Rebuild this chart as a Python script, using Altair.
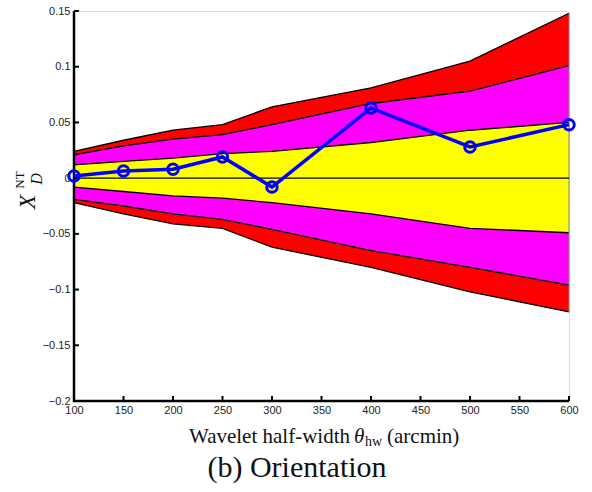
import altair as alt
import pandas as pd

# ---- data ----
x_vals = [100, 150, 200, 250, 300, 400, 500, 600]
red_top = [0.024, 0.034, 0.043, 0.048, 0.064, 0.081, 0.105, 0.148]
mag_top = [0.021, 0.029, 0.035, 0.039, 0.048, 0.067, 0.078, 0.101]
yel_top = [0.012, 0.015, 0.018, 0.022, 0.024, 0.032, 0.043, 0.050]
yel_bot = [-0.008, -0.012, -0.016, -0.018, -0.022, -0.032, -0.045, -0.049]
mag_bot = [-0.019, -0.025, -0.032, -0.037, -0.046, -0.065, -0.080, -0.096]
red_bot = [-0.022, -0.032, -0.041, -0.045, -0.062, -0.080, -0.102, -0.120]
measured = [0.002, 0.0065, 0.008, 0.019, -0.008, 0.063, 0.028, 0.048]

x_ticks = [100, 150, 200, 250, 300, 350, 400, 450, 500, 550, 600]
y_ticks = [-0.2, -0.15, -0.1, -0.05, 0, 0.05, 0.1, 0.15]

W, H = 495, 390

df = pd.DataFrame({
    "x": x_vals, "red_top": red_top, "mag_top": mag_top, "yel_top": yel_top,
    "yel_bot": yel_bot, "mag_bot": mag_bot, "red_bot": red_bot, "val": measured,
})
xt = pd.DataFrame({"x": x_ticks})
yt = pd.DataFrame({"y": y_ticks})

xs = alt.Scale(domain=[100, 600], nice=False, zero=False)
ys = alt.Scale(domain=[-0.2, 0.15], nice=False, zero=False)

X = alt.X("x:Q", scale=xs, axis=alt.Axis(values=x_ticks, domain=False, ticks=False, grid=False,
                                          labelPadding=3, labelFontSize=11, labelColor="#222",
                                          labelFlush=False,
                                          labelFont="Liberation Sans", title=None))
base = alt.Chart(df)

def band(lo, hi, color):
    return base.mark_area(color=color, opacity=1).encode(
        x=X,
        y=alt.Y(f"{lo}:Q", scale=ys, axis=alt.Axis(values=y_ticks, domain=False, ticks=False, grid=False,
                                                   labelPadding=4, labelFontSize=11, labelColor="#222",
                                                   labelFlush=False,
                                                   labelFont="Liberation Sans", format=".2~f", title=None)),
        y2=f"{hi}:Q",
    )

layers = [
    band("red_bot", "red_top", "#FF0000"),
    band("mag_bot", "mag_top", "#FF00FF"),
    band("yel_bot", "yel_top", "#FFFF00"),
]
for col in ["red_top", "mag_top", "yel_top", "yel_bot", "mag_bot", "red_bot"]:
    layers.append(base.mark_line(color="black", strokeWidth=1.3).encode(
        x=alt.X("x:Q", scale=xs), y=alt.Y(f"{col}:Q", scale=ys)))

# right edge of the polygon
edge = pd.DataFrame({"x": [600], "lo": [red_bot[-1]], "hi": [red_top[-1]]})
layers.append(alt.Chart(edge).mark_rule(color="#888", strokeWidth=1).encode(
    x=alt.X("x:Q", scale=xs), y=alt.Y("lo:Q", scale=ys), y2="hi:Q"))

# zero line
zero = pd.DataFrame({"x": [100], "x2": [600], "y": [0]})
layers.append(alt.Chart(zero).mark_rule(color="black", strokeWidth=1.2).encode(
    x=alt.X("x:Q", scale=xs), x2="x2:Q", y=alt.Y("y:Q", scale=ys)))

# axes lines and inward ticks
layers.append(alt.Chart(zero).mark_rule(color="black", strokeWidth=2.5).encode(
    x=alt.value(0), y=alt.value(0), y2=alt.value(H + 1)))
layers.append(alt.Chart(zero).mark_rule(color="black", strokeWidth=2.5).encode(
    x=alt.value(-1), x2=alt.value(W), y=alt.value(H)))
layers.append(alt.Chart(xt).mark_rule(color="black", strokeWidth=2).encode(
    x=alt.X("x:Q", scale=xs), y=alt.value(H), y2=alt.value(H - 5)))
layers.append(alt.Chart(yt).mark_rule(color="black", strokeWidth=2).encode(
    y=alt.Y("y:Q", scale=ys), x=alt.value(0), x2=alt.value(5)))

# measured series
layers.append(base.mark_line(color="#0000FF", strokeWidth=3.5).encode(
    x=alt.X("x:Q", scale=xs), y=alt.Y("val:Q", scale=ys)))
layers.append(base.mark_point(shape="circle", filled=False, color="#0000FF", size=110, strokeWidth=3, opacity=1).encode(
    x=alt.X("x:Q", scale=xs), y=alt.Y("val:Q", scale=ys)))

# titles (as text)
def txt(t, x, y, size, style="normal", angle=0, align="left", baseline="alphabetic"):
    return alt.Chart(zero).mark_text(text=t, font="Liberation Serif", fontSize=size, fontStyle=style,
                                     angle=angle, align=align, baseline=baseline, color="#111").encode(
        x=alt.value(x), y=alt.value(y))

ox, oy = 74, 11
layers += [
    txt("Wavelet half-width", 189 - ox, 443 - oy, 21),
    txt("θ", 354 - ox, 443 - oy, 21, style="italic"),
    txt("hw", 365 - ox, 446 - oy, 14),
    txt("(arcmin)", 387 - ox, 443 - oy, 21),
    txt("(b) Orientation", 297 - ox, 477 - oy, 30, align="center"),
    txt("X", 28 - ox, 202 - oy, 24, style="italic", angle=270, align="center", baseline="middle"),
    txt("NT", 20 - ox, 180 - oy, 13, angle=270, align="center", baseline="middle"),
    txt("D", 37 - ox, 179 - oy, 16, style="italic", angle=270, align="center", baseline="middle"),
]

chart = alt.layer(*layers).properties(
    width=W, height=H,
    autosize=alt.AutoSizeParams(type="none"),
    padding={"left": ox, "top": oy, "right": 592 - ox - W, "bottom": 492 - oy - H},
).configure_view(stroke=None).configure(background="white")

chart.save("out.html", embed_options={"renderer": "svg", "actions": False})
